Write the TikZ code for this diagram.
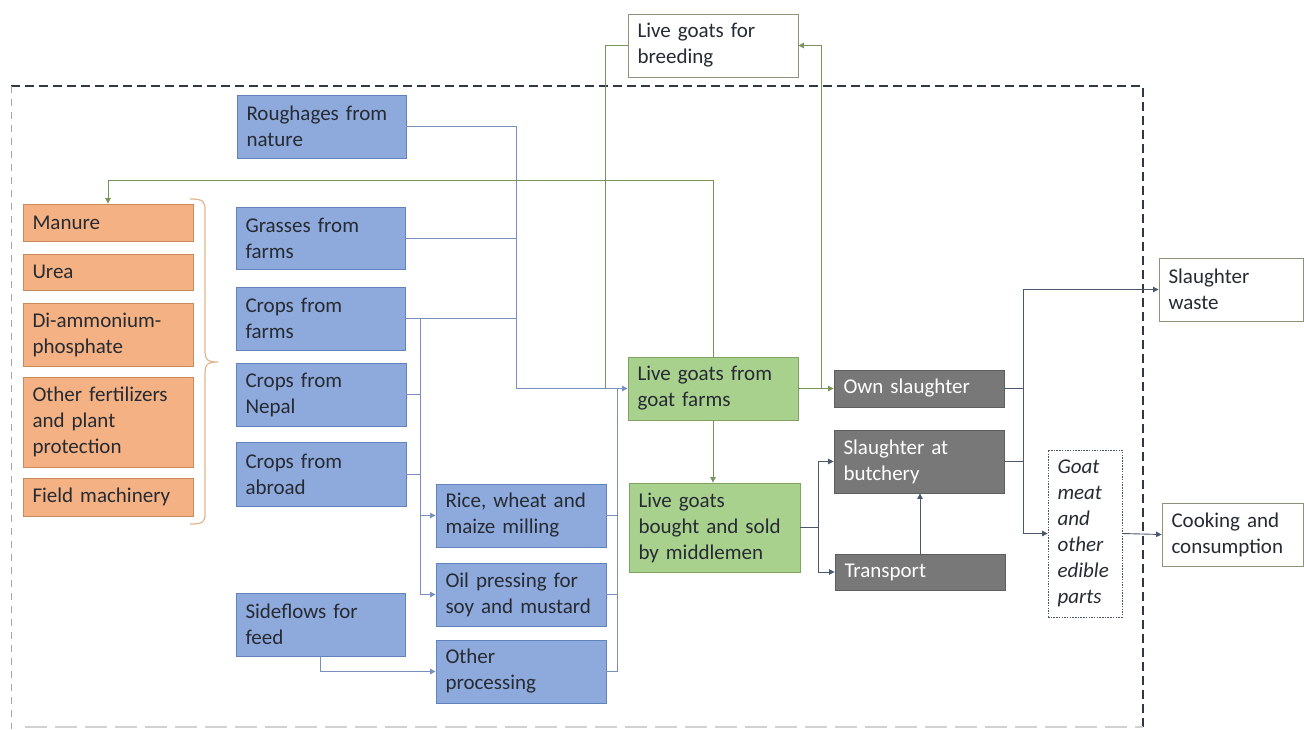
\documentclass[tikz,border=0pt]{standalone}
\usepackage{fontspec}
\setmainfont{Carlito}
\usetikzlibrary{arrows.meta}
\definecolor{bfill}{HTML}{8EA9DB}
\definecolor{bdraw}{HTML}{6282BE}
\definecolor{ofill}{HTML}{F4B183}
\definecolor{odraw}{HTML}{C98A5E}
\definecolor{gfill}{HTML}{A9D18E}
\definecolor{gdraw}{HTML}{7EA362}
\definecolor{kfill}{HTML}{787878}
\definecolor{kdraw}{HTML}{5E5E5E}
\definecolor{wdraw}{HTML}{8A9478}
\definecolor{txt}{HTML}{262B33}
\definecolor{blc}{HTML}{7890C0}
\definecolor{grc}{HTML}{76955A}
\definecolor{dkc}{HTML}{4A586E}
\definecolor{frame}{HTML}{2E3846}
\definecolor{brc}{HTML}{E0B58E}
\begin{document}
\begin{tikzpicture}[x=1pt,y=-1pt,
  box/.style={draw, line width=0.9pt, inner xsep=9.5pt, inner ysep=0pt, align=left,
    font=\fontsize{21}{26}\selectfont, text=txt},
  bluebox/.style={box, fill=bfill, draw=bdraw},
  orabox/.style={box, fill=ofill, draw=odraw},
  grnbox/.style={box, fill=gfill, draw=gdraw},
  grybox/.style={box, fill=kfill, draw=kdraw, text=white},
  whtbox/.style={box, fill=white, draw=wdraw},
  wd/.style={minimum width=170pt, text width=151pt},
  tip/.style={-{Triangle[length=5.5pt,width=5.5pt]}},
  bl/.style={draw=blc, line width=0.9pt},
  gr/.style={draw=grc, line width=0.9pt},
  dk/.style={draw=dkc, line width=0.9pt}
]
\useasboundingbox (0,0) rectangle (1304,729);
% frame
\draw[frame, line width=2pt, dash pattern=on 9pt off 5pt] (11,86) -- (1143,86) -- (1143,729);
\draw[gray!70, line width=1pt, dash pattern=on 7pt off 6pt] (11,86) -- (11,729);
\draw[gray!35, line width=1.5pt, dash pattern=on 22pt off 8pt] (25,727) -- (1143,727);

% nodes
\node[whtbox, wd, minimum height=63pt] (breed) at (713,45.5) {Live goats for\\breeding};
\node[bluebox, minimum width=169pt, text width=150pt, minimum height=63pt] (rough) at (321.5,126.5) {Roughages from\\nature};
\node[bluebox, minimum width=169pt, text width=150pt, minimum height=62pt] (grass) at (320.5,238) {Grasses from\\farms};
\node[bluebox, minimum width=169pt, text width=150pt, minimum height=63pt] (cfarm) at (320.5,318.5) {Crops from\\farms};
\node[bluebox, wd, minimum height=63pt] (cnepal) at (321,394.5) {Crops from\\Nepal};
\node[bluebox, wd, minimum height=64pt] (cabroad) at (321,474) {Crops from\\abroad};
\node[bluebox, wd, minimum height=63pt] (rice) at (521,515.5) {Rice, wheat and\\maize milling};
\node[bluebox, wd, minimum height=63pt] (oil) at (521,594.5) {Oil pressing for\\soy and mustard};
\node[bluebox, wd, minimum height=63pt] (other) at (521,671.5) {Other\\processing};
\node[bluebox, minimum width=169pt, text width=150pt, minimum height=63pt] (side) at (320.5,624.5) {Sideflows for\\feed};

\node[orabox, wd, minimum height=37pt] (manure) at (108,222.5) {Manure};
\node[orabox, wd, minimum height=36pt] (urea) at (108,272) {Urea};
\node[orabox, wd, minimum height=63pt] (dap) at (108,334.5) {Di-ammonium-\\phosphate};
\node[orabox, wd, minimum height=90pt] (ofert) at (108,422) {Other fertilizers\\and plant\\protection};
\node[orabox, wd, minimum height=38pt] (mach) at (108,497) {Field machinery};

\node[grnbox, wd, minimum height=63pt] (farms) at (713,388.5) {Live goats from\\goat farms};
\node[grnbox, minimum width=171pt, text width=152pt, minimum height=89pt] (middle) at (714.5,527.5) {Live goats\\bought and sold\\by middlemen};

\node[grybox, wd, minimum height=37pt] (own) at (919,388.5) {Own slaughter};
\node[grybox, wd, minimum height=63pt] (butch) at (919,461.5) {Slaughter at\\butchery};
\node[grybox, wd, minimum height=36pt] (transp) at (920,572) {Transport};

\node[box, fill=white, draw=dkc, line width=0.7pt, dash pattern=on 1.5pt off 1.2pt, minimum width=74pt, text width=55pt, minimum height=167pt, font=\fontsize{21}{26}\selectfont\itshape] (meat) at (1085,533.5) {Goat\\meat\\and\\other\\edible\\parts};
\node[whtbox, minimum width=144pt, text width=125pt, minimum height=63pt] (waste) at (1231,289.5) {Slaughter\\waste};
\node[whtbox, minimum width=141pt, text width=122pt, minimum height=63pt] (cook) at (1232.5,534.5) {Cooking and\\consumption};

% brace
\draw[brc, line width=1.2pt, line join=round]
  (190,199) .. controls (203,199) and (205,201) .. (205,210) -- (205,352)
  .. controls (205,359) and (207,362) .. (218,362)
  .. controls (207,362) and (205,365) .. (205,372) -- (205,514)
  .. controls (205,522) and (203,524) .. (190,524);

% junction coordinates
\coordinate (j1) at (516,388.5);
\coordinate (kx) at (420,0);
\coordinate (px) at (617,0);
\coordinate (gx) at (605,0);
\coordinate (bx) at (821,0);
\coordinate (mt) at (108,180);
\coordinate (mx) at (818,0);
\coordinate (sx) at (1023,0);

% blue connectors
\draw[bl] (rough.east) -| (j1);
\draw[bl] (grass.east) -| (j1);
\draw[bl] (cfarm.east) -| (j1);
\draw[bl, tip] (j1) -- (farms.west);
\draw[bl, tip] (cfarm.east -| kx) |- (rice.west);
\draw[bl, tip] (cfarm.east -| kx) |- (oil.west);
\draw[bl] (cnepal.east) -- (cnepal.east -| kx);
\draw[bl] (cabroad.east) -- (cabroad.east -| kx);
\draw[bl] (rice.east) -| (px |- farms.west);
\draw[bl] (oil.east) -| (px |- farms.west);
\draw[bl] (other.east) -| (px |- farms.west);
\draw[bl, tip] (side.south) |- (other.west);

% green connectors
\draw[gr] (breed.west) -| (gx |- farms.west);
\draw[gr, tip] (farms.north) |- (mt) -- (manure.north);
\draw[gr, tip] (farms.east) -- (own.west);
\draw[gr, tip] (farms.east -| bx) |- (breed.east);
\draw[gr, tip] (farms.south) -- (farms.south |- middle.north);

% dark connectors
\draw[dk, tip] (middle.east) -- (middle.east -| mx) |- (butch.west);
\draw[dk, tip] (middle.east -| mx) |- (transp.west);
\draw[dk, tip] (transp.north) -- (transp.north |- butch.south);
\draw[dk] (own.east) -- (own.east -| sx);
\draw[dk] (butch.east) -- (butch.east -| sx);
\draw[dk, tip] (own.east -| sx) |- (waste.west);
\draw[dk, tip] (own.east -| sx) |- (meat.west);
\draw[dk, tip] (meat.east) -- (cook.west);
\end{tikzpicture}
\end{document}
